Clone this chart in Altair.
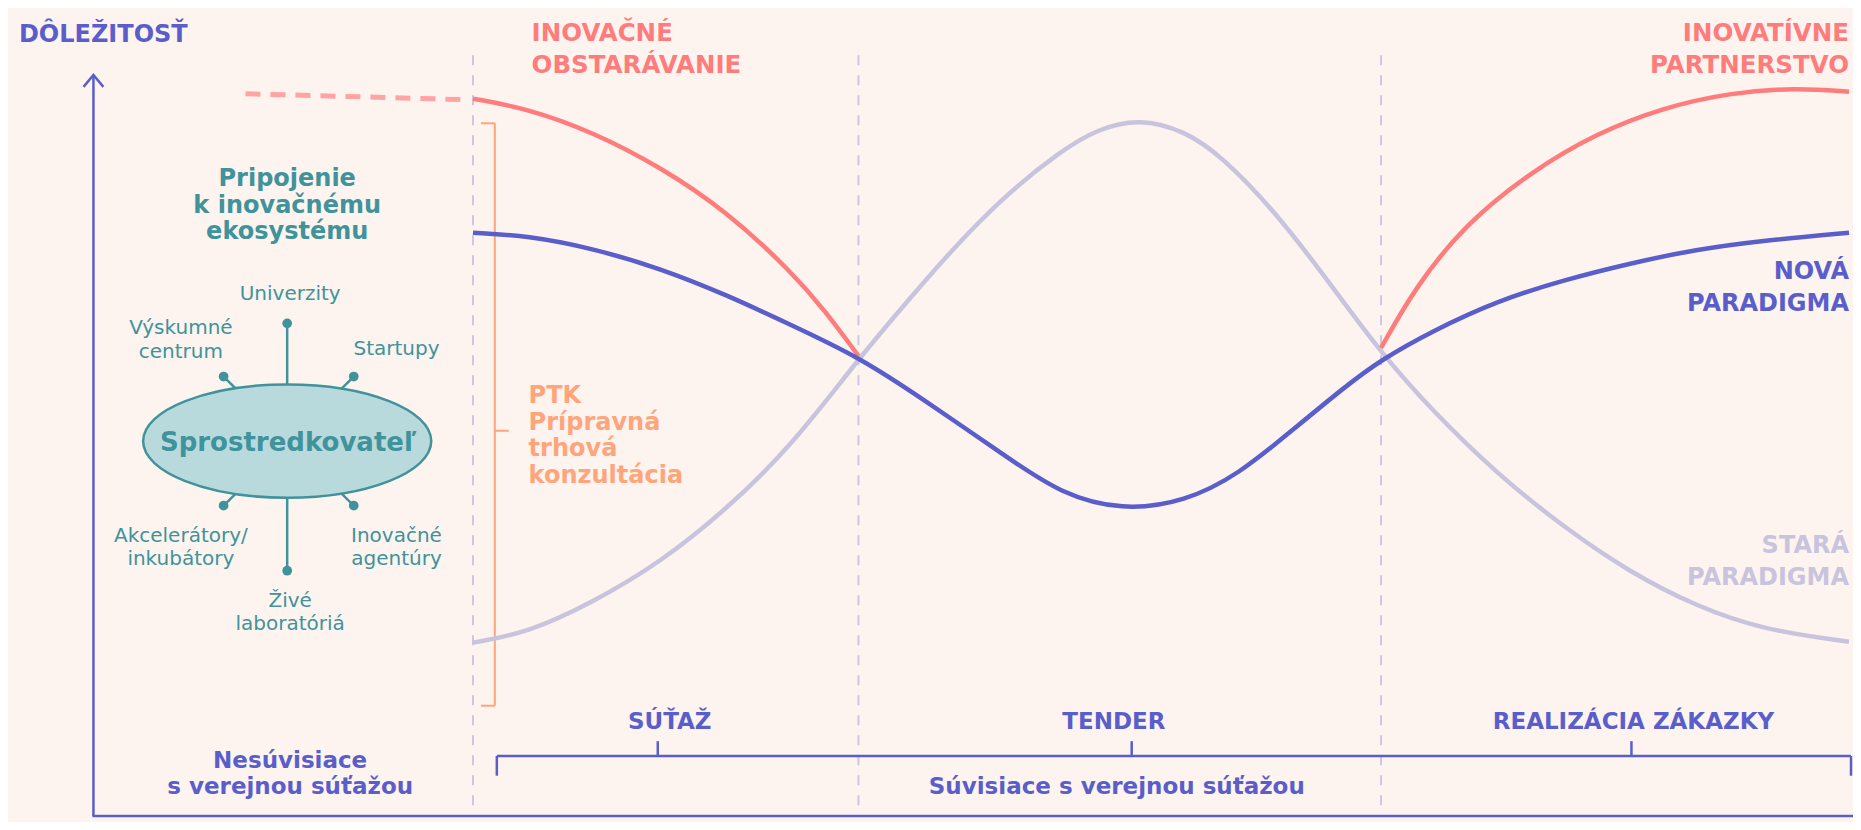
import altair as alt
import pandas as pd

# ---------------- data ----------------
# curves: x = time axis, y = importance (screen-like units, top = high)
red_dash_x = [243, 463]
red_dash_y = [91, 97]

red_left_x = [472, 527, 593, 660, 727, 793, 827, 860]
red_left_y = [96, 106, 130, 165, 210, 272, 312, 357]

red_right_x = [1386, 1420, 1470, 1537, 1603, 1670, 1737, 1803, 1857]
red_right_y = [349, 288, 224, 170, 131, 105, 90, 85, 89]

blue_x = [472, 527, 593, 660, 727, 793, 860, 921, 1011, 1064, 1125, 1189,
          1243, 1296, 1350, 1386, 1437, 1503, 1570, 1637, 1703, 1770, 1857]
blue_y = [232, 235, 248, 268, 295, 326, 358, 398, 461, 497, 514, 505,
          477, 433, 388, 361, 332, 301, 280, 263, 249, 240, 232]

lav_x = [472, 527, 593, 660, 727, 793, 860, 914, 957, 1011, 1064, 1100, 1143,
         1189, 1225, 1279, 1332, 1386, 1437, 1503, 1570, 1637, 1703, 1770, 1857]
lav_y = [648, 638, 607, 567, 513, 448, 360, 296, 246, 191, 149, 127, 116,
         129, 154, 210, 280, 354, 412, 477, 531, 577, 611, 635, 647]

phase_x = [472, 860, 1386]
phase_top = 52
axis_x0 = 90
axis_y0 = 824
axis_top = 72
arrow_x = [80, 90, 100]
arrow_y = [84, 72, 84]

# bottom bracket
stage_labels = ["SÚŤAŽ", "TENDER", "REALIZÁCIA ZÁKAZKY"]
stage_label_x = [670, 1117, 1640]
stage_tick_x = [658, 1135, 1638]

# ecosystem diagram
hub_center = (285, 443.5)
hub_rx, hub_ry = 145, 57.5
spoke_x1 = [285, 285, 221, 352, 221, 352]
spoke_y1 = [324, 575, 378, 378, 509, 509]
spoke_x2 = [285, 285, 233, 340, 233, 340]
spoke_y2 = [386, 501, 390, 390, 497, 497]

node_lines = ["Univerzity", "Výskumné", "centrum", "Startupy",
              "Akcelerátory/", "inkubátory", "Inovačné", "agentúry",
              "Živé", "laboratóriá"]
node_x = [288, 178, 178, 395, 178, 178, 395, 395, 288, 288]
node_y = [300, 335, 359, 356, 546, 569, 546, 569, 612, 635]

# ---------------- styling ----------------
BG = "#FDF4EF"
RED = "#FF7C7C"
RED_LIGHT = "#FFA3A3"
BLUE = "#5A5ECB"
LAV = "#C9C4DE"
TEAL = "#40939B"
HUB_FILL = "#B9DADD"
ORANGE = "#FFA57B"
GRID = "#CDC6E2"
FONT = "DejaVu Sans"

XS = alt.Scale(domain=[4, 1861], nice=False, zero=False)
YS = alt.Scale(domain=[4, 830], nice=False, zero=False, reverse=True)


def X(f="x"):
    return alt.X(f"{f}:Q", scale=XS, axis=None)


def Y(f="y"):
    return alt.Y(f"{f}:Q", scale=YS, axis=None)


def curve(xs, ys, color, width=4.5, dash=None, interp="basis"):
    df = pd.DataFrame({"x": xs, "y": ys})
    kw = dict(color=color, strokeWidth=width, interpolate=interp)
    if dash:
        kw["strokeDash"] = dash
    return alt.Chart(df).mark_line(**kw).encode(x=X(), y=Y())


def segments(x1, y1, x2, y2, color, width=2.5, dash=None):
    df = pd.DataFrame({"x": x1, "y": y1, "x2": x2, "y2": y2})
    kw = dict(color=color, strokeWidth=width)
    if dash:
        kw["strokeDash"] = dash
    return alt.Chart(df).mark_rule(**kw).encode(
        x=X(), y=Y(), x2=alt.X2("x2:Q"), y2=alt.Y2("y2:Q"))


def texts(lines, xs, ys, color, size, weight="bold", align="center"):
    df = pd.DataFrame({"t": lines, "x": xs, "y": ys})
    return alt.Chart(df).mark_text(
        align=align, baseline="alphabetic", font=FONT, fontSize=size,
        fontWeight=weight, color=color).encode(x=X(), y=Y(), text="t:N")


layers = []

# phase separators
layers.append(segments(phase_x, [phase_top] * 3, phase_x, [axis_y0] * 3,
                       GRID, width=2, dash=[10, 10]))

# axes
layers.append(segments([axis_x0, axis_x0 - 1], [axis_top, axis_y0],
                       [axis_x0, 1861], [axis_y0, axis_y0], BLUE, width=2.5))
arrow_df = pd.DataFrame({"x": arrow_x, "y": arrow_y})
layers.append(alt.Chart(arrow_df).mark_line(color=BLUE, strokeWidth=2.5,
                                            strokeJoin="miter").encode(x=X(), y=Y()))

# PTK bracket
layers.append(segments([494, 480, 480, 494], [121, 121, 712, 433],
                       [494, 494, 494, 508], [712, 121, 712, 433],
                       ORANGE, width=2))

# bottom bracket
layers.append(segments([496, 496, 1859] + stage_tick_x,
                       [763, 763, 763] + [748] * 3,
                       [1859, 496, 1859] + stage_tick_x,
                       [763, 783, 783] + [763] * 3, BLUE, width=2.5))

# curves
layers.append(curve(lav_x, lav_y, LAV))
layers.append(curve(red_dash_x, red_dash_y, RED_LIGHT, width=5, dash=[15, 10],
                    interp="linear"))
layers.append(curve(red_left_x, red_left_y, RED))
layers.append(curve(red_right_x, red_right_y, RED))
layers.append(curve(blue_x, blue_y, BLUE))

# ecosystem diagram
layers.append(segments(spoke_x1, spoke_y1, spoke_x2, spoke_y2, TEAL, width=2.5))
dots = pd.DataFrame({"x": spoke_x1, "y": spoke_y1})
layers.append(alt.Chart(dots).mark_point(shape="circle", filled=True, size=95,
                                         color=TEAL, opacity=1).encode(x=X(), y=Y()))
px_rx = hub_rx * 1845 / (1861 - 4)
px_ry = hub_ry * 814 / (830 - 4)
k = px_ry / px_rx
c = 0.5523
ell_path = (f"M -1 0 C -1 {-c*k:.4f} {-c:.4f} {-k:.4f} 0 {-k:.4f} "
            f"C {c:.4f} {-k:.4f} 1 {-c*k:.4f} 1 0 "
            f"C 1 {c*k:.4f} {c:.4f} {k:.4f} 0 {k:.4f} "
            f"C {-c:.4f} {k:.4f} -1 {c*k:.4f} -1 0 Z")
hub = pd.DataFrame({"x": [hub_center[0]], "y": [hub_center[1]]})
layers.append(alt.Chart(hub).mark_point(shape=ell_path, size=(2 * px_rx) ** 2,
                                        filled=True, fill=HUB_FILL, stroke=TEAL,
                                        strokeWidth=2.5, opacity=1).encode(x=X(), y=Y()))
layers.append(texts(["Sprostredkovateľ"], [286], [454], TEAL, 26))
layers.append(texts(node_lines, node_x, node_y, TEAL, 20, weight="normal"))
layers.append(texts(["Pripojenie", "k inovačnému", "ekosystému"],
                    [285] * 3, [185, 212, 238], TEAL, 24))

# PTK label
layers.append(texts(["PTK", "Prípravná", "trhová", "konzultácia"],
                    [528] * 4, [405, 432, 459, 486], ORANGE, 24, align="left"))

# headings
layers.append(texts(["DÔLEŽITOSŤ"], [15], [38], BLUE, 24, align="left"))
layers.append(texts(["INOVAČNÉ", "OBSTARÁVANIE"], [531, 531], [37, 70], RED, 24.5,
                    align="left"))
layers.append(texts(["INOVATÍVNE", "PARTNERSTVO"], [1857, 1857], [37, 70], RED, 24.5,
                    align="right"))
layers.append(texts(["NOVÁ", "PARADIGMA"], [1857, 1857], [279, 311], BLUE, 24,
                    align="right"))
layers.append(texts(["STARÁ", "PARADIGMA"], [1857, 1857], [557, 589], LAV, 24,
                    align="right"))

# bottom labels
layers.append(texts(stage_labels, stage_label_x, [736] * 3, BLUE, 23))
layers.append(texts(["Súvisiace s verejnou súťažou"], [1120], [802], BLUE, 23))
layers.append(texts(["Nesúvisiace", "s verejnou súťažou"], [288, 288], [775, 802],
                    BLUE, 23))

chart = alt.layer(*layers).properties(
    width=1845, height=814, padding=0, autosize="none", background=BG
).configure_view(stroke=None)

chart.save("out.html", embed_options={"renderer": "svg", "actions": False})
